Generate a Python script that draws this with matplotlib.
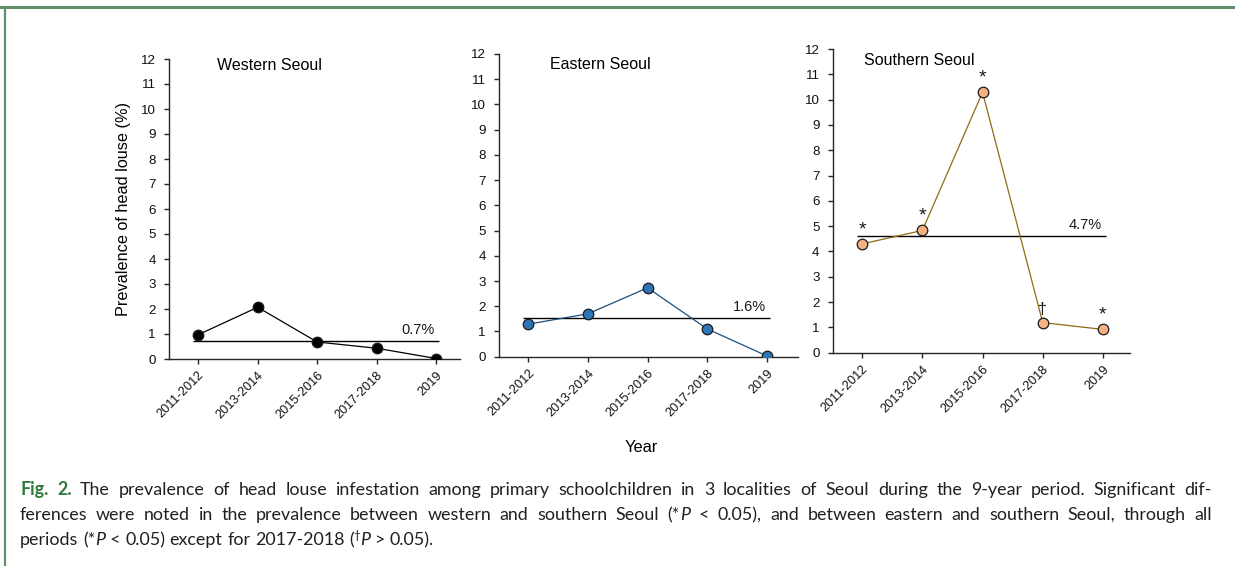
import matplotlib
matplotlib.use("Agg")
import matplotlib.pyplot as plt
from matplotlib.lines import Line2D

# ---------------- data ----------------
periods = ["2011-2012", "2013-2014", "2015-2016", "2017-2018", "2019"]
western = [0.97, 2.07, 0.68, 0.43, 0.02]
eastern = [1.29, 1.70, 2.73, 1.10, 0.03]
southern = [4.30, 4.83, 10.29, 1.19, 0.92]
western_mean = 0.73
eastern_mean = 1.55
southern_mean = 4.61
mean_labels = ["0.7%", "1.6%", "4.7%"]
titles = ["Western Seoul", "Eastern Seoul", "Southern Seoul"]
southern_marks = ["*", "*", "*", "\u2020", "*"]
yticks = list(range(0, 13))

W, H, DPI = 12.35, 5.66, 100
fig = plt.figure(figsize=(W, H), dpi=DPI)
fig.patch.set_facecolor("white")

FONT = ["Liberation Sans", "DejaVu Sans"]
plt.rcParams["font.family"] = FONT

# green frame (top and left)
frame_c = "#5f8f68"
fig.add_artist(Line2D([0, 1], [1 - 6.5 / 566, 1 - 6.5 / 566], color=frame_c, lw=2.2,
                      transform=fig.transFigure))
fig.add_artist(Line2D([4.5 / 1235, 4.5 / 1235], [0, 1 - 6.5 / 566], color=frame_c, lw=1.6,
                      transform=fig.transFigure))

panels = [
    dict(rect=[169, 59, 460, 359], vals=western, mean=western_mean, fill="black",
         line="black", xr=4.4, title_xy=(0.164, 0.977)),
    dict(rect=[499, 54, 798, 356.7], vals=eastern, mean=eastern_mean, fill="#2e75b6",
         line="#1f4e79", xr=4.52, title_xy=(0.171, 0.964)),
    dict(rect=[832.7, 49, 1130, 352.7], vals=southern, mean=southern_mean, fill="#f4b183",
         line="#8c6d14", xr=4.45, title_xy=(0.105, 0.961)),
]

axes = []
for i, p in enumerate(panels):
    x0, y0, x1, y1 = p["rect"]
    ax = fig.add_axes([x0 / 1235, 1 - y1 / 566, (x1 - x0) / 1235, (y1 - y0) / 566])
    axes.append(ax)
    xs = list(range(len(periods)))
    ax.plot(xs, p["vals"], color=p["line"], lw=0.9, zorder=3)
    ax.plot(xs, p["vals"], ls="none", marker="o", ms=7.6, mfc=p["fill"],
            mec="#1a1a1a", mew=0.9, zorder=4)
    ax.hlines(p["mean"], -0.08, 4.05, color="black", lw=1.0, zorder=2)
    ax.text(3.7, p["mean"] + 0.15, mean_labels[i], ha="center", va="bottom", fontsize=10.5,
            color="#1a1a1a")
    ax.text(p["title_xy"][0], p["title_xy"][1], titles[i], transform=ax.transAxes,
            ha="left", va="center", fontsize=11.5, color="black")
    ax.set_xlim(-0.49, p["xr"])
    ax.set_ylim(0, 12)
    ax.set_yticks(yticks)
    ax.set_xticks(xs)
    ax.set_xticklabels(periods, rotation=45, ha="right", rotation_mode="anchor")
    for s in ["top", "right"]:
        ax.spines[s].set_visible(False)
    for s in ["left", "bottom"]:
        ax.spines[s].set_color("#262626")
        ax.spines[s].set_linewidth(1.0)
    ax.tick_params(axis="y", direction="out", length=3.5, width=1.0, color="#262626",
                   labelsize=9.6, pad=6, labelcolor="#111111")
    ax.tick_params(axis="x", direction="out", length=3.5, width=1.0, color="#262626",
                   labelsize=9.2, pad=4, labelcolor="#111111")
    ax.patch.set_alpha(0)
    if i == 2:
        for xi, (v, m) in enumerate(zip(p["vals"], southern_marks)):
            ax.annotate(m, (xi, v), xytext=(0, 4), textcoords="offset points",
                        ha="center", va="bottom", fontsize=14 if m == "*" else 11.5,
                        color="#1a1a1a")

axes[0].set_ylabel("Prevalence of head louse (%)", fontsize=11.7, labelpad=7)
fig.text(641 / 1235, 1 - 447 / 566, "Year", ha="center", va="center", fontsize=11.8)

# ---------------- caption ----------------
CAP_FONT = ["Lato", "DejaVu Sans"]
cap_size = 12.9
cap_color = "#231f20"
green = "#2f7a3b"
cap_lines = [
    ([("Fig. 2.", "bold"),
      (" The prevalence of head louse infestation among primary schoolchildren in 3 localities of Seoul during the 9-year period. Significant dif-", "normal")], True),
    ([("ferences were noted in the prevalence between western and southern Seoul (*", "normal"),
      ("P", "italic"), (" < 0.05), and between eastern and southern Seoul, through all", "normal")], True),
    ([("periods (*", "normal"), ("P", "italic"), (" < 0.05) except for 2017-2018 (", "normal"),
      ("\u2020", "sup"), ("P", "italic"), (" > 0.05).", "normal")], False),
]
line_base = [495, 520, 545]
x_start, x_end = 20, 1212

renderer = fig.canvas.get_renderer()


def style_kw(style):
    kw = dict(fontsize=cap_size, color=cap_color, family=CAP_FONT)
    if style == "bold":
        kw.update(weight="bold", color=green)
    elif style == "italic":
        kw.update(style="italic")
    elif style == "sup":
        kw.update(fontsize=cap_size * 0.65)
    return kw


def measure(s, style):
    t = fig.text(0, 0, s, **style_kw(style))
    w = t.get_window_extent(renderer).width
    t.remove()
    return w


space_w = measure("a a", "normal") - measure("aa", "normal")

for (segs, justify), yy in zip(cap_lines, line_base):
    words = [[]]
    for text, style in segs:
        parts = text.split(" ")
        for k, part in enumerate(parts):
            if k > 0:
                words.append([])
            if part:
                words[-1].append((part, style))
    words = [w for w in words if w]
    widths = [[measure(s, st) for s, st in w] for w in words]
    total = sum(sum(w) for w in widths)
    gaps = len(words) - 1
    gap = (x_end - x_start - total) / gaps if justify else space_w
    x = x_start
    for w, ws in zip(words, widths):
        for (s, st), wpx in zip(w, ws):
            yoff = 6 if st == "sup" else 0
            fig.text(x / 1235, 1 - (yy - yoff) / 566, s, ha="left", va="baseline",
                     **style_kw(st))
            x += wpx
        x += gap

fig.savefig("out.png", dpi=DPI, facecolor="white")
